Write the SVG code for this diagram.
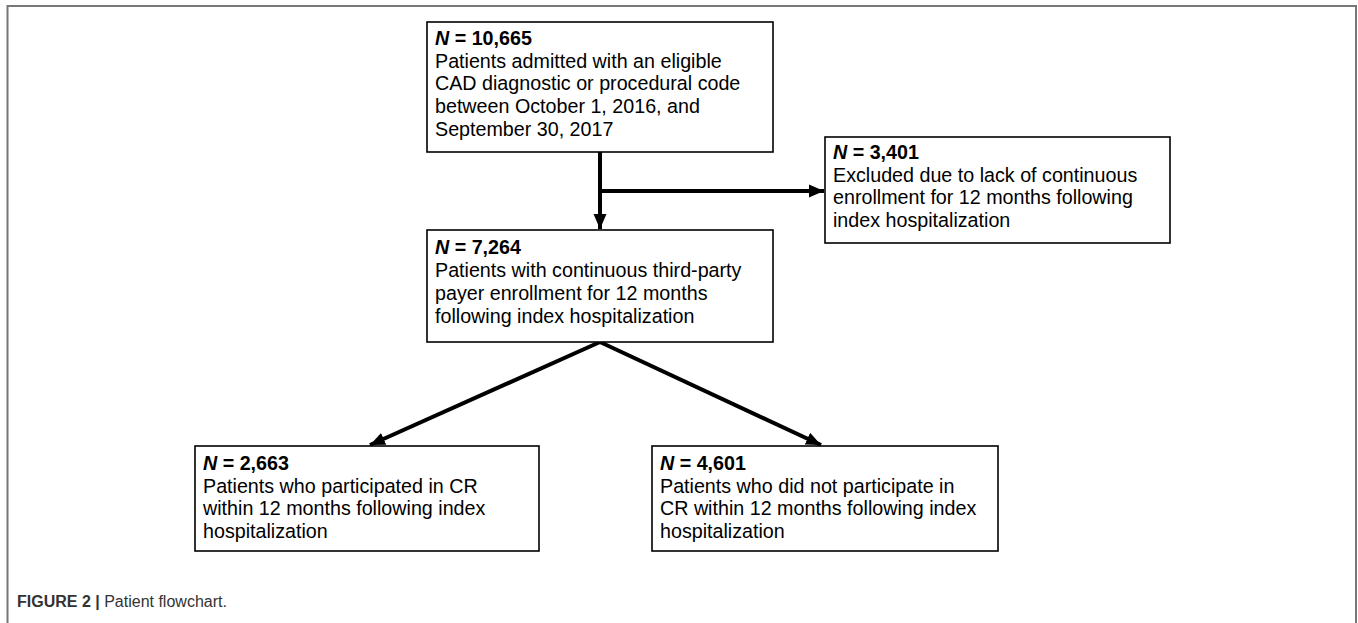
<svg xmlns="http://www.w3.org/2000/svg" width="1358" height="623" viewBox="0 0 1358 623">
<style>
.box{fill:#fff;stroke:#000;stroke-width:1.6}
.t{font-family:"Liberation Sans",Arial,sans-serif;font-size:19.7px;fill:#000}
.b{font-weight:bold}
.conn{stroke:#000;stroke-width:4;fill:none}
.cap{font-family:"Liberation Sans",Arial,sans-serif;font-size:16px;fill:#333}
</style>
<defs>
<marker id="ah" markerUnits="userSpaceOnUse" markerWidth="16" markerHeight="16" viewBox="0 0 16 16" refX="15" refY="8" orient="auto">
<path d="M0,1.5 L15,8 L0,14.5 Z" fill="#000"/>
</marker>
</defs>
<rect width="1358" height="623" fill="#fff"/>
<path d="M7.5,623 V6 H1356 V623" fill="none" stroke="#777" stroke-width="2"/>
<g id="connectors">
<line class="conn" x1="600" y1="152" x2="600" y2="229" marker-end="url(#ah)"/>
<line class="conn" x1="600" y1="191" x2="824" y2="191" marker-end="url(#ah)"/>
<line class="conn" x1="600" y1="342" x2="370" y2="445" marker-end="url(#ah)"/>
<line class="conn" x1="600" y1="342" x2="821" y2="445" marker-end="url(#ah)"/>
</g>
<g id="n1">
<rect class="box" x="427" y="22" width="346" height="130"/>
<text class="t" x="435" y="45"><tspan class="b" font-style="italic">N</tspan><tspan class="b"> = 10,665</tspan></text>
<text class="t" x="435" y="67.5">Patients admitted with an eligible</text>
<text class="t" x="435" y="90">CAD diagnostic or procedural code</text>
<text class="t" x="435" y="113">between October 1, 2016, and</text>
<text class="t" x="435" y="135.5">September 30, 2017</text>
</g>
<g id="n2">
<rect class="box" x="825" y="137" width="345" height="106"/>
<text class="t" x="833" y="159"><tspan class="b" font-style="italic">N</tspan><tspan class="b"> = 3,401</tspan></text>
<text class="t" x="833" y="182">Excluded due to lack of continuous</text>
<text class="t" x="833" y="204">enrollment for 12 months following</text>
<text class="t" x="833" y="227">index hospitalization</text>
</g>
<g id="n3">
<rect class="box" x="427" y="230" width="346" height="112"/>
<text class="t" x="435" y="254"><tspan class="b" font-style="italic">N</tspan><tspan class="b"> = 7,264</tspan></text>
<text class="t" x="435" y="277">Patients with continuous third-party</text>
<text class="t" x="435" y="300">payer enrollment for 12 months</text>
<text class="t" x="435" y="323">following index hospitalization</text>
</g>
<g id="n4">
<rect class="box" x="195" y="446" width="344" height="105"/>
<text class="t" x="203" y="470"><tspan class="b" font-style="italic">N</tspan><tspan class="b"> = 2,663</tspan></text>
<text class="t" x="203" y="493">Patients who participated in CR</text>
<text class="t" x="203" y="515">within 12 months following index</text>
<text class="t" x="203" y="538">hospitalization</text>
</g>
<g id="n5">
<rect class="box" x="652" y="446" width="346" height="105"/>
<text class="t" x="660" y="470"><tspan class="b" font-style="italic">N</tspan><tspan class="b"> = 4,601</tspan></text>
<text class="t" x="660" y="493">Patients who did not participate in</text>
<text class="t" x="660" y="515">CR within 12 months following index</text>
<text class="t" x="660" y="538">hospitalization</text>
</g>
<text class="cap" x="17" y="607"><tspan font-weight="bold">FIGURE 2 |</tspan> Patient flowchart.</text>
</svg>
